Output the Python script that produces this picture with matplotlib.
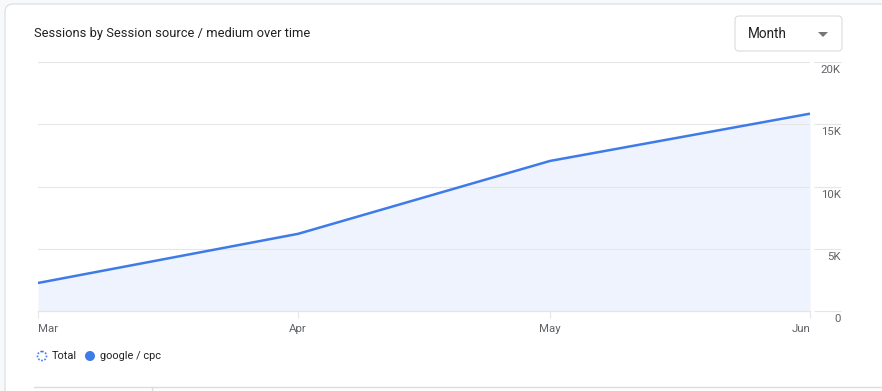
import matplotlib
matplotlib.use('Agg')
import matplotlib.pyplot as plt
from matplotlib.patches import FancyBboxPatch, Circle
from matplotlib.transforms import ScaledTranslation, blended_transform_factory
from datetime import date

plt.rcParams['font.family'] = ['Roboto', 'DejaVu Sans']

# data
months = [date(2024, 3, 1), date(2024, 4, 1), date(2024, 5, 1), date(2024, 6, 1)]
month_labels = ['Mar', 'Apr', 'May', 'Jun']
sessions = [2250, 6200, 12050, 15850]
y_ticks = [0, 5000, 10000, 15000, 20000]
y_tick_labels = ['0', '5K', '10K', '15K', '20K']

W, H = 882, 391
BLUE = '#3f7be8'
FILL = '#eef3fd'
GRID = '#e6e6e6'
TXT = '#5f6368'

fig = plt.figure(figsize=(W / 100, H / 100), dpi=100)
fig.patch.set_facecolor('#f8f9fa')

# background layer in pixel coords
bg = fig.add_axes([0, 0, 1, 1])
bg.set_xlim(0, W)
bg.set_ylim(H, 0)
bg.axis('off')
bg.add_patch(FancyBboxPatch((5, 4), W + 20, H + 20,
                            boxstyle='round,pad=0,rounding_size=8',
                            fc='white', ec='#dadce0', lw=0.8))
bg.text(34, 34, 'Sessions by Session source / medium over time',
        fontsize=9.3, color='#202124', va='center', ha='left')

# dropdown
bg.add_patch(FancyBboxPatch((735, 16), 107, 35,
                            boxstyle='round,pad=0,rounding_size=4',
                            fc='white', ec='#dadce0', lw=0.8))
bg.text(748, 33.5, 'Month', fontsize=9.8, color='#202124', va='center', ha='left')
bg.fill([818, 828, 823], [32, 32, 37], color='#757575', lw=0)

# legend
bg.add_patch(Circle((42, 356), 4.5, fc='white', ec=BLUE, lw=1.2, ls=(0, (1, 1))))
bg.text(52, 356, 'Total', fontsize=7.9, color='#202124', va='center', ha='left')
bg.add_patch(Circle((90, 356), 5, fc=BLUE, ec='none'))
bg.text(100, 356, 'google / cpc', fontsize=7.9, color='#202124', va='center', ha='left')

# bottom table edge
bg.plot([34, W], [387, 387], color='#dadce0', lw=1)
bg.plot([152, 152], [387, H], color='#dadce0', lw=1)

# chart
x0, x1, ytop, ybot = 38, 810, 62, 311
ax = fig.add_axes([x0 / W, (H - ybot) / H, (x1 - x0) / W, (ybot - ytop) / H])
ax.set_facecolor('none')
ax.fill_between(months, sessions, 0, color=FILL, lw=0, zorder=1)
ax.plot(months, sessions, color=BLUE, lw=1.8, zorder=3, solid_capstyle='butt')
ax.set_xlim(months[0], months[-1])
ax.set_ylim(0, 20000)

for s in ['top', 'left', 'right']:
    ax.spines[s].set_visible(False)
ax.spines['bottom'].set_color(GRID)
ax.spines['bottom'].set_linewidth(1)

ax.set_yticks(y_ticks)
ax.set_yticklabels(y_tick_labels)
ax.yaxis.tick_right()
ax.grid(axis='y', color=GRID, lw=0.8, zorder=0)
ax.tick_params(axis='y', length=0, pad=22, labelsize=8.2, labelcolor=TXT)
off = ScaledTranslation(0, -7 / 100, fig.dpi_scale_trans)
for lab in ax.get_yticklabels():
    lab.set_horizontalalignment('right')
    lab.set_transform(lab.get_transform() + off)

# short grid segments under the y labels
tr = blended_transform_factory(ax.transAxes, ax.transData)
ax.hlines(y_ticks, 1.005, 1.04, transform=tr, color=GRID, lw=0.8, clip_on=False)

ax.set_xticks(months)
ax.set_xticklabels(month_labels)
ax.tick_params(axis='x', length=5, color=GRID, pad=4, labelsize=8.2, labelcolor=TXT)
xlabs = ax.get_xticklabels()
xlabs[0].set_horizontalalignment('left')
xlabs[-1].set_horizontalalignment('right')

fig.savefig('out.png', dpi=100, facecolor=fig.get_facecolor())
